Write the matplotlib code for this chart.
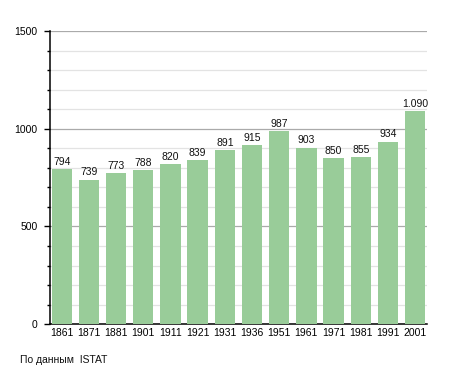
import numpy as np
import matplotlib
matplotlib.use("Agg")
import matplotlib.pyplot as plt
from matplotlib.ticker import MultipleLocator

# ---------- Data ----------
years = ["1861", "1871", "1881", "1901", "1911", "1921", "1931",
         "1936", "1951", "1961", "1971", "1981", "1991", "2001"]
population = [794, 739, 773, 788, 820, 839, 891,
              915, 987, 903, 850, 855, 934, 1090]
# --------------------------

BAR_COLOR = "#99cc99"
plt.rcParams["font.family"] = ["Liberation Sans", "DejaVu Sans"]
FS = 7.5

fig = plt.figure(figsize=(4.55, 3.73), dpi=100)
ax = fig.add_axes([0.110, 0.131, 0.828, 0.786])

x = np.arange(len(years))
ax.bar(x, population, width=0.75, color=BAR_COLOR, zorder=3)

for xi, v in zip(x, population):
    label = f"{v:,}".replace(",", ".")
    ax.text(xi, v + 12, label, ha="center", va="bottom", fontsize=FS,
            color="#111111", zorder=4)

ax.set_xlim(-0.43, len(years) - 0.57)
ax.set_ylim(0, 1500)
ax.set_xticks(x)
ax.set_xticklabels(years, fontsize=FS)
ax.tick_params(axis="x", length=0, pad=3)

ax.yaxis.set_major_locator(MultipleLocator(500))
ax.yaxis.set_minor_locator(MultipleLocator(100))
ax.tick_params(axis="y", which="major", length=4, width=1, labelsize=FS, pad=5)
ax.tick_params(axis="y", which="minor", length=2, width=1)

ax.grid(axis="y", which="major", color="#aaaaaa", linewidth=0.9, zorder=0)
ax.grid(axis="y", which="minor", color="#e3e3e3", linewidth=0.9, zorder=0)

for side in ["top", "right"]:
    ax.spines[side].set_visible(False)
ax.spines["left"].set_linewidth(1.1)
ax.spines["bottom"].set_linewidth(1.1)

fig.text(20 / 455, 1 - 360 / 373, "По данным  ISTAT", fontsize=FS,
         ha="left", va="center", color="#111111")

fig.savefig("out.png", dpi=100)
